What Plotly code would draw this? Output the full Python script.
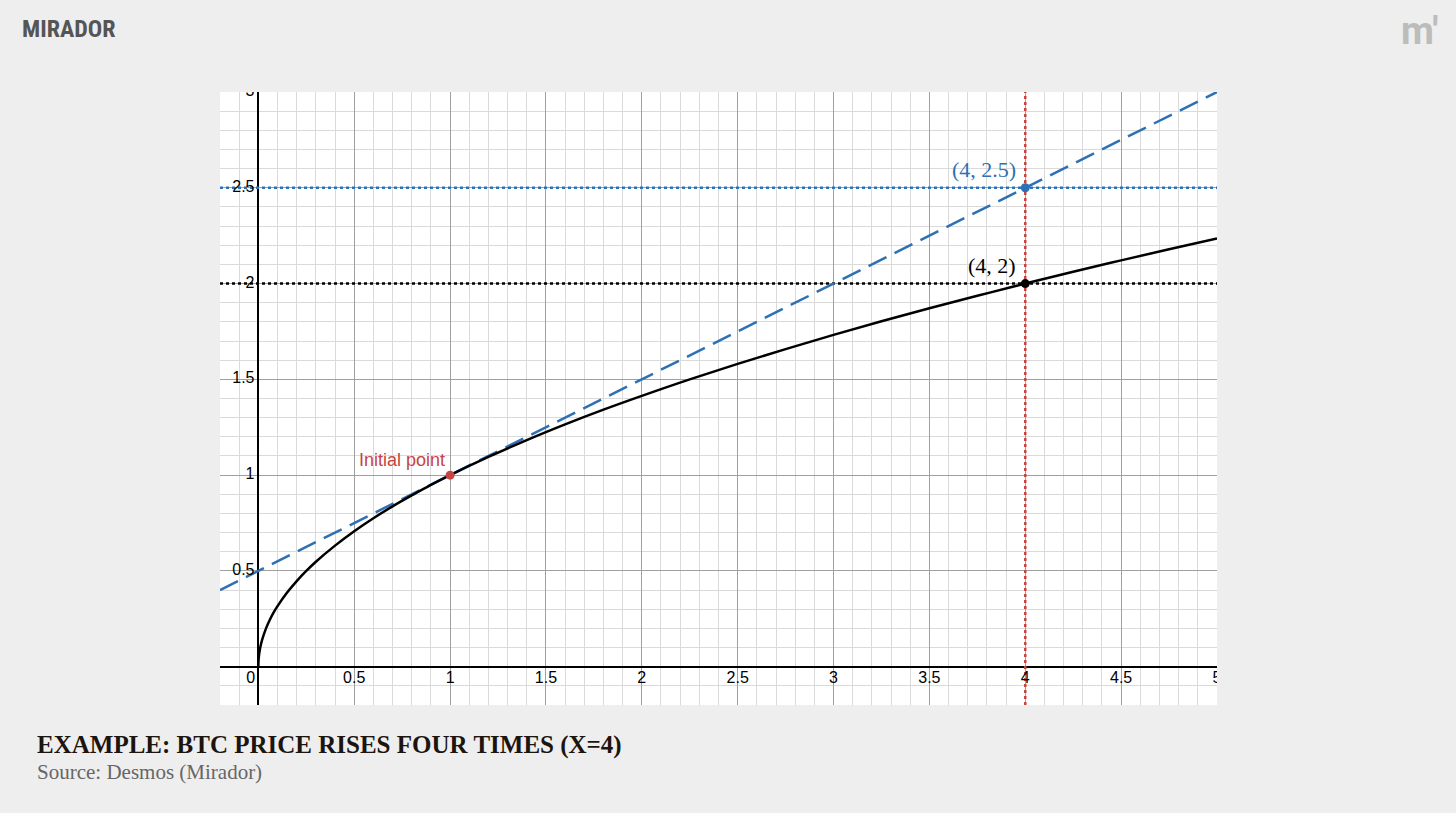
import plotly.graph_objects as go

# ---- data ----
curve_x = [0, 0.001, 0.0025, 0.005, 0.01, 0.02, 0.04, 0.06, 0.08, 0.1, 0.15, 0.2, 0.25, 0.3, 0.4, 0.5,
           0.6, 0.7, 0.8, 0.9, 1.0, 1.2, 1.4, 1.6, 1.8, 2.0, 2.25, 2.5, 2.75, 3.0, 3.25, 3.5, 3.75,
           4.0, 4.25, 4.5, 4.75, 5.0]
curve_y = [0, 0.032, 0.05, 0.071, 0.1, 0.141, 0.2, 0.245, 0.283, 0.316, 0.387, 0.447, 0.5, 0.548, 0.632, 0.707,
           0.775, 0.837, 0.894, 0.949, 1.0, 1.095, 1.183, 1.265, 1.342, 1.414, 1.5, 1.581, 1.658, 1.732, 1.803,
           1.871, 1.936, 2.0, 2.062, 2.121, 2.179, 2.236]
tangent_x = [-0.2, 5.0]
tangent_y = [0.4, 3.0]
x_range = [-0.2, 5.0]
y_range = [-0.2, 3.0]
level_blue = 2.5
level_black = 2.0
vline_x = 4.0
pt_initial = (1.0, 1.0)
pt_blue = (4.0, 2.5)
pt_black = (4.0, 2.0)
x_tick_vals = [0, 0.5, 1, 1.5, 2, 2.5, 3, 3.5, 4, 4.5, 5]
x_tick_text = ["0", "0.5", "1", "1.5", "2", "2.5", "3", "3.5", "4", "4.5", "5"]
y_tick_vals = [0.5, 1, 1.5, 2, 2.5, 3]
y_tick_text = ["0.5", "1", "1.5", "2", "2.5", "3"]

BLUE = "#2d70b3"
RED = "#c74440"
BLACK = "#000000"
LABEL_FONT = "Liberation Sans, Arial, sans-serif"
SERIF = "Liberation Serif, Times New Roman, serif"

fig = go.Figure()

# reference lines
fig.add_trace(go.Scatter(x=x_range, y=[level_blue, level_blue], mode="lines",
                         line=dict(color=BLUE, width=2.5, dash="dot"), hoverinfo="skip"))
fig.add_trace(go.Scatter(x=x_range, y=[level_black, level_black], mode="lines",
                         line=dict(color=BLACK, width=2.5, dash="dot"), hoverinfo="skip"))
fig.add_trace(go.Scatter(x=[vline_x, vline_x], y=y_range, mode="lines",
                         line=dict(color=RED, width=2.5, dash="dot"), hoverinfo="skip"))

# tangent line
fig.add_trace(go.Scatter(x=tangent_x, y=tangent_y, mode="lines",
                         line=dict(color=BLUE, width=2.5, dash="20px,9px"), hoverinfo="skip"))
# curve
fig.add_trace(go.Scatter(x=curve_x, y=curve_y, mode="lines", line_shape="spline",
                         line=dict(color=BLACK, width=2.5), hoverinfo="skip"))

# points
fig.add_trace(go.Scatter(x=[pt_initial[0]], y=[pt_initial[1]], mode="markers",
                         marker=dict(color=RED, size=9)))
fig.add_trace(go.Scatter(x=[pt_blue[0]], y=[pt_blue[1]], mode="markers",
                         marker=dict(color=BLUE, size=9)))
fig.add_trace(go.Scatter(x=[pt_black[0]], y=[pt_black[1]], mode="markers",
                         marker=dict(color=BLACK, size=9)))

# tick labels drawn inside the plot (clipped at the edges like Desmos)
fig.add_trace(go.Scatter(x=[v if v != 0 else -0.04 for v in x_tick_vals], y=[-0.025] * len(x_tick_vals),
                         mode="text", text=x_tick_text, textposition="bottom center",
                         textfont=dict(family=LABEL_FONT, size=16, color="#000"),
                         cliponaxis=True, hoverinfo="skip"))
fig.add_trace(go.Scatter(x=[-0.02] * len(y_tick_vals), y=y_tick_vals,
                         mode="text", text=y_tick_text, textposition="middle left",
                         textfont=dict(family=LABEL_FONT, size=16, color="#000"),
                         cliponaxis=True, hoverinfo="skip"))

# point labels
fig.add_annotation(x=pt_initial[0], y=pt_initial[1], text="Initial point", showarrow=False,
                   xanchor="right", yanchor="bottom", xshift=-3, yshift=3,
                   font=dict(family=LABEL_FONT, size=18, color=RED))
fig.add_annotation(x=pt_blue[0], y=pt_blue[1], text="(4, 2.5)", showarrow=False,
                   xanchor="right", yanchor="bottom", xshift=-7, yshift=4,
                   font=dict(family=SERIF, size=22, color=BLUE))
fig.add_annotation(x=pt_black[0], y=pt_black[1], text="(4, 2)", showarrow=False,
                   xanchor="right", yanchor="bottom", xshift=-7, yshift=4,
                   font=dict(family=SERIF, size=22, color=BLACK))

# page texts
fig.add_annotation(xref="paper", yref="paper", x=-0.1856, y=-0.066, xanchor="left", yanchor="middle",
                   text="<b>EXAMPLE: BTC PRICE RISES FOUR TIMES (X=4)</b>", showarrow=False,
                   font=dict(family=SERIF, size=25, color="#1c150f"))
fig.add_annotation(xref="paper", yref="paper", x=-0.1856, y=-0.109, xanchor="left", yanchor="middle",
                   text="Source: Desmos (Mirador)", showarrow=False,
                   font=dict(family=SERIF, size=21, color="#666666"))
fig.add_annotation(xref="paper", yref="paper", x=-0.2006, y=1.103, xanchor="left", yanchor="middle",
                   text="<b>MIRADOR</b>", showarrow=False,
                   font=dict(family="Liberation Sans Narrow, Roboto Condensed, Roboto, sans-serif", size=24, color="#555555"))
fig.add_annotation(xref="paper", yref="paper", x=1.2036, y=1.10, xanchor="center", yanchor="middle",
                   text="<b>m'</b>", showarrow=False,
                   font=dict(family="Roboto, sans-serif", size=38, color="#bcbcbc"))

grid_major = "#a0a0a0"
grid_minor = "#dadada"
fig.update_xaxes(range=x_range, dtick=0.5, tick0=0, showgrid=True, gridcolor=grid_major, gridwidth=1,
                 minor=dict(dtick=0.1, tick0=0, showgrid=True, gridcolor=grid_minor, gridwidth=1),
                 zeroline=True, zerolinecolor=BLACK, zerolinewidth=2,
                 showticklabels=False, ticks="", showline=False, fixedrange=True)
fig.update_yaxes(range=y_range, dtick=0.5, tick0=0, showgrid=True, gridcolor=grid_major, gridwidth=1,
                 minor=dict(dtick=0.1, tick0=0, showgrid=True, gridcolor=grid_minor, gridwidth=1),
                 zeroline=True, zerolinecolor=BLACK, zerolinewidth=2,
                 showticklabels=False, ticks="", showline=False, fixedrange=True)

fig.update_layout(width=1456, height=813, showlegend=False,
                  margin=dict(l=220, r=239, t=92, b=108),
                  plot_bgcolor="#ffffff", paper_bgcolor="#eeeeee")

fig.write_html("out.html", config={"displayModeBar": False},
               post_script="document.body.style.margin='0';document.body.style.background='#eeeeee';document.body.style.overflow='hidden';")
